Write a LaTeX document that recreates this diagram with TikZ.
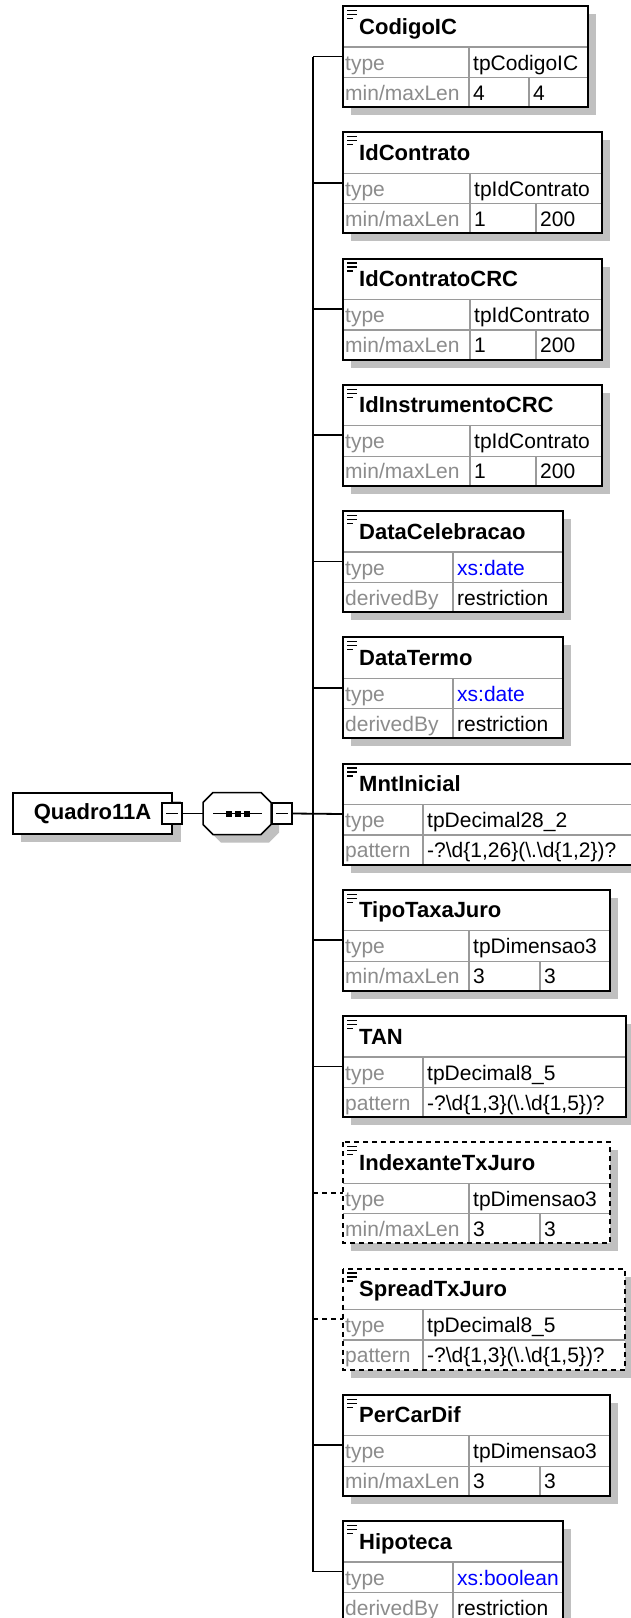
\documentclass[tikz,border=0pt]{standalone}
\usepackage{fontspec}
\setmainfont{Liberation Sans}
\definecolor{shadowc}{HTML}{C0C0C0}
\definecolor{lblc}{HTML}{8C8C8C}
\definecolor{gridc}{HTML}{9A9A9A}
\definecolor{xsblue}{HTML}{0000FF}
\tikzset{
  elembox/.style={fill=white, draw=none, minimum height=101pt, inner sep=0pt, outer sep=0pt},
  border/.style={draw=black, line width=2pt},
  optborder/.style={dash pattern=on 5pt off 4pt},
  grid/.style={draw=gridc, line width=1.3pt},
  titletxt/.style={font=\fontsize{22}{22}\selectfont\bfseries, inner sep=0pt, anchor=base west},
  lbltxt/.style={font=\fontsize{21}{21}\selectfont, text=lblc, inner sep=0pt, anchor=base west},
  valtxt/.style={font=\fontsize{21}{21}\selectfont, text=black, inner sep=0pt, anchor=base west},
  conn/.style={draw=black, line width=1.8pt},
  optconn/.style={conn, dash pattern=on 5pt off 4pt},
  icon/.style={draw=black, line width=1.4pt},
  minusbox/.style={draw=black, fill=white, line width=1.5pt, minimum width=20pt, minimum height=21pt, inner sep=0pt},
  minusline/.style={draw=black, line width=1.5pt},
  rootbox/.style={draw=black, fill=white, line width=2pt, minimum width=159pt, minimum height=41pt, inner sep=0pt, font=\fontsize{22}{22}\selectfont\bfseries},
  seqanchor/.style={draw=none, minimum width=68pt, minimum height=42pt, inner sep=0pt, outer sep=0pt},
  octline/.style={draw=black, fill=white, line width=1.5pt},
}
% #1 name, #2 top, #3 right, #4 split, #5 extra border style, #6 title, #7 type value
\newcommand\xelem[7]{%
  \fill[shadowc] (351,#2+8) rectangle (#3+8,#2+109);
  \node[elembox, minimum width={(#3-343)*1pt}, anchor=north west] (#1) at (343,#2) {};
  \draw[grid] (343,#2+41) -- (#3,#2+41) (343,#2+71.5) -- (#3,#2+71.5) (#4,#2+41) -- (#4,#2+100);
  \draw[border,#5] (#1.north west) rectangle (#1.south east);
  \draw[icon] (347,#2+4.5) -- (357,#2+4.5) (347,#2+8.5) -- (357,#2+8.5) (347,#2+12.5) -- (353,#2+12.5);
  \node[titletxt] (#1-title) at (359,#2+28) {#6};
  \node[lbltxt] (#1-lbla) at (345,#2+64) {type};
  \node[valtxt] (#1-vala) at (#4+4,#2+64) {#7};
}
% #1 name, #2 top, #3 split, #4 label, #5 value
\newcommand\xrowb[5]{%
  \node[lbltxt] (#1-lblb) at (345,#2+94) {#4};
  \node[valtxt] (#1-valb) at (#3+4,#2+94) {#5};
}
% #1 name, #2 top, #3 split, #4 split2, #5 v1, #6 v2
\newcommand\xrowmm[6]{%
  \draw[grid] (#4,#2+71.5) -- (#4,#2+100);
  \node[lbltxt] (#1-lblb) at (345,#2+94) {min/maxLen};
  \node[valtxt] (#1-valb) at (#3+4,#2+94) {#5};
  \node[valtxt] (#1-valc) at (#4+4,#2+94) {#6};
}
\newcommand\xbs{\textbackslash}
\begin{document}
\begin{tikzpicture}[x=1pt,y=-1pt]
\useasboundingbox (0,0) rectangle (630,1618);
\fill[white] (0,0) rectangle (630,1618);

% root element
\fill[shadowc] (21,801) rectangle (181,842);
\node[rootbox] (root) at (92.5,813.5) {Quadro11A};
\node[minusbox] (qminus) at (172,813.5) {};
\draw[minusline] ([xshift=-6pt]qminus.center) -- ([xshift=6pt]qminus.center);

% sequence compositor (octagon)
\fill[shadowc] (211,810.5) -- (221,800.5) -- (269,800.5) -- (279,810.5) -- (279,832.5) -- (269,842.5) -- (221,842.5) -- (211,832.5) -- cycle;
\draw[octline] (203,802.5) -- (213,792.5) -- (261,792.5) -- (271,802.5) -- (271,824.5) -- (261,834.5) -- (213,834.5) -- (203,824.5) -- cycle;
\node[seqanchor] (seq) at (237,813.5) {};
\draw[line width=1.5pt] ([xshift=-24pt]seq.center) -- ([xshift=25pt]seq.center);
\fill ([xshift=-11pt,yshift=3pt]seq.center) rectangle ([xshift=-5pt,yshift=-3pt]seq.center);
\fill ([xshift=-2pt,yshift=3pt]seq.center) rectangle ([xshift=4pt,yshift=-3pt]seq.center);
\fill ([xshift=7pt,yshift=3pt]seq.center) rectangle ([xshift=13pt,yshift=-3pt]seq.center);
\node[minusbox] (sminus) at (282,813.5) {};
\draw[minusline] ([xshift=-6pt]sminus.center) -- ([xshift=6pt]sminus.center);
\draw[conn] (qminus.east) -- (seq.west);

\coordinate (trunk) at (313,813.5);

% child elements
\xelem{CodigoIC}{6}{588}{469}{}{CodigoIC}{tpCodigoIC}
\xrowmm{CodigoIC}{6}{469}{529}{4}{4}

\xelem{IdContrato}{132.25}{602}{470}{}{IdContrato}{tpIdContrato}
\xrowmm{IdContrato}{132.25}{470}{536}{1}{200}

\xelem{IdContratoCRC}{258.5}{602}{470}{}{IdContratoCRC}{tpIdContrato}
\xrowmm{IdContratoCRC}{258.5}{470}{536}{1}{200}

\xelem{IdInstrumentoCRC}{384.75}{602}{470}{}{IdInstrumentoCRC}{tpIdContrato}
\xrowmm{IdInstrumentoCRC}{384.75}{470}{536}{1}{200}

\xelem{DataCelebracao}{511}{563}{453}{}{DataCelebracao}{\textcolor{xsblue}{xs:date}}
\xrowb{DataCelebracao}{511}{453}{derivedBy}{restriction}

\xelem{DataTermo}{637.25}{563}{453}{}{DataTermo}{\textcolor{xsblue}{xs:date}}
\xrowb{DataTermo}{637.25}{453}{derivedBy}{restriction}

\xelem{MntInicial}{763.5}{640}{423}{}{MntInicial}{tpDecimal28\_2}
\xrowb{MntInicial}{763.5}{423}{pattern}{-?\xbs d\{1,26\}(\xbs .\xbs d\{1,2\})?}

\xelem{TipoTaxaJuro}{889.75}{610}{469}{}{TipoTaxaJuro}{tpDimensao3}
\xrowmm{TipoTaxaJuro}{889.75}{469}{540}{3}{3}

\xelem{TAN}{1016}{626}{423}{}{TAN}{tpDecimal8\_5}
\xrowb{TAN}{1016}{423}{pattern}{-?\xbs d\{1,3\}(\xbs .\xbs d\{1,5\})?}

\xelem{IndexanteTxJuro}{1142.25}{610}{469}{optborder}{IndexanteTxJuro}{tpDimensao3}
\xrowmm{IndexanteTxJuro}{1142.25}{469}{540}{3}{3}

\xelem{SpreadTxJuro}{1268.5}{625}{423}{optborder}{SpreadTxJuro}{tpDecimal8\_5}
\xrowb{SpreadTxJuro}{1268.5}{423}{pattern}{-?\xbs d\{1,3\}(\xbs .\xbs d\{1,5\})?}

\xelem{PerCarDif}{1394.75}{610}{469}{}{PerCarDif}{tpDimensao3}
\xrowmm{PerCarDif}{1394.75}{469}{540}{3}{3}

\xelem{Hipoteca}{1521}{563}{453}{}{Hipoteca}{\textcolor{xsblue}{xs:boolean}}
\xrowb{Hipoteca}{1521}{453}{derivedBy}{restriction}

% connectors
\draw[conn] (sminus.east) -- (MntInicial.west);
\draw[conn] (CodigoIC.west -| trunk) -- (Hipoteca.west -| trunk);
\foreach \n in {CodigoIC,IdContrato,IdContratoCRC,IdInstrumentoCRC,DataCelebracao,DataTermo,TipoTaxaJuro,TAN,PerCarDif,Hipoteca}
  \draw[conn] (\n.west -| trunk) -- (\n.west);
\foreach \n in {IndexanteTxJuro,SpreadTxJuro}
  \draw[optconn] (\n.west -| trunk) -- (\n.west);
\end{tikzpicture}
\end{document}
